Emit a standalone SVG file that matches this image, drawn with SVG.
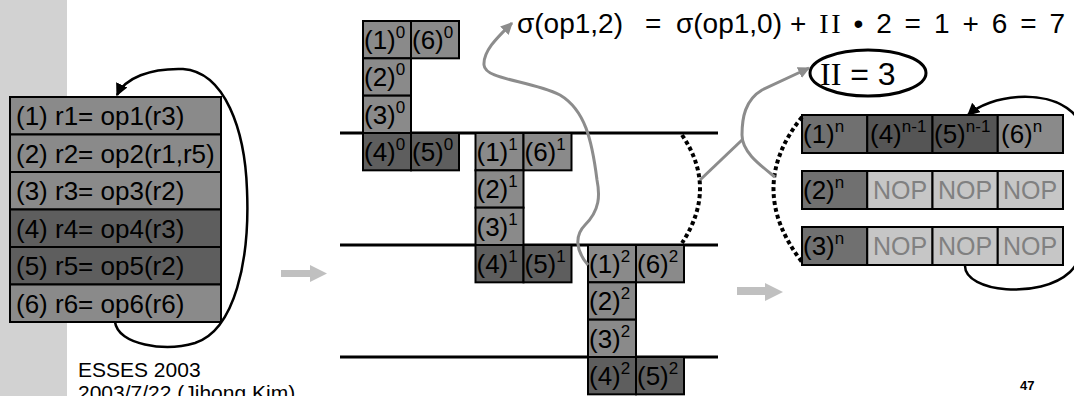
<svg xmlns="http://www.w3.org/2000/svg" width="1074" height="396" viewBox="0 0 1074 396">
<style>
.t{font-family:"Liberation Sans",Arial,sans-serif;font-size:26px;fill:#000}
.f{font-size:28px}
.e{font-size:32px}
.s{font-size:17px}
.sr{font-family:"Liberation Serif","Times New Roman",serif}
.m{fill:#8a8a8a;stroke:#000;stroke-width:2}
.d{fill:#5e5e5e;stroke:#000;stroke-width:2}
.r1{fill:#707070;stroke:#000;stroke-width:2}
.r4{fill:#555;stroke:#000;stroke-width:2}
.l{fill:#c6c6c6;stroke:#000;stroke-width:2}
.nop{font-family:"Liberation Sans",Arial,sans-serif;font-size:25px;fill:#808080;text-anchor:middle}
.hl{stroke:#000;stroke-width:3}
.blk{fill:none;stroke:#000;stroke-width:2.5}
.gry{fill:none;stroke:#8c8c8c;stroke-width:3}
.dot{fill:none;stroke:#000;stroke-width:4;stroke-dasharray:4 3}
.ba{fill:#c0c0c0}
</style>
<defs>
<marker id="ah" viewBox="0 0 10 10" refX="9" refY="5" markerWidth="5" markerHeight="5" orient="auto" markerUnits="strokeWidth"><path d="M0,0L10,5L0,10z" fill="#000"/></marker>
<marker id="ag" viewBox="0 0 10 10" refX="9" refY="5" markerWidth="4" markerHeight="4" orient="auto" markerUnits="strokeWidth"><path d="M0,0L10,5L0,10z" fill="#8c8c8c"/></marker>
</defs>
<rect x="0" y="0" width="1074" height="396" fill="#fff"/>
<rect x="0" y="0" width="67" height="396" fill="#d2d2d2"/>

<g id="lines">
<line class="hl" x1="340" y1="133" x2="718" y2="133"/>
<line class="hl" x1="340" y1="245" x2="718" y2="245"/>
<line class="hl" x1="340" y1="357" x2="718" y2="357"/>
</g>

<g id="loop-table">
<rect class="m" x="10" y="97" width="211" height="37.5"/>
<rect class="m" x="10" y="134.5" width="211" height="37.5"/>
<rect class="m" x="10" y="172" width="211" height="37.5"/>
<rect class="d" x="10" y="209.5" width="211" height="37.5"/>
<rect class="d" x="10" y="247" width="211" height="37.5"/>
<rect class="m" x="10" y="284.5" width="211" height="37.5"/>
<text class="t" x="16" y="125">(1) r1= op1(r3)</text>
<text class="t" x="16" y="162.5">(2) r2= op2(r1,r5)</text>
<text class="t" x="16" y="200">(3) r3= op3(r2)</text>
<text class="t" x="16" y="237.5">(4) r4= op4(r3)</text>
<text class="t" x="16" y="275">(5) r5= op5(r2)</text>
<text class="t" x="16" y="312.5">(6) r6= op6(r6)</text>
</g>

<g id="iter0">
<rect class="m" x="363" y="21" width="48" height="37.33"/>
<rect class="m" x="411" y="21" width="48" height="37.33"/>
<rect class="m" x="363" y="58.33" width="48" height="37.33"/>
<rect class="m" x="363" y="95.67" width="48" height="37.33"/>
<rect class="d" x="363" y="133" width="48" height="37.33"/>
<rect class="d" x="411" y="133" width="48" height="37.33"/>
<text class="t" x="364" y="49">(1)<tspan class="s" dy="-11">0</tspan></text>
<text class="t" x="412" y="49">(6)<tspan class="s" dy="-11">0</tspan></text>
<text class="t" x="364" y="86.3">(2)<tspan class="s" dy="-11">0</tspan></text>
<text class="t" x="364" y="123.7">(3)<tspan class="s" dy="-11">0</tspan></text>
<text class="t" x="364" y="161">(4)<tspan class="s" dy="-11">0</tspan></text>
<text class="t" x="412" y="161">(5)<tspan class="s" dy="-11">0</tspan></text>
</g>

<g id="iter1">
<rect class="m" x="475.5" y="133" width="48" height="37.33"/>
<rect class="m" x="523.5" y="133" width="48" height="37.33"/>
<rect class="m" x="475.5" y="170.33" width="48" height="37.33"/>
<rect class="m" x="475.5" y="207.67" width="48" height="37.33"/>
<rect class="d" x="475.5" y="245" width="48" height="37.33"/>
<rect class="d" x="523.5" y="245" width="48" height="37.33"/>
<text class="t" x="476.5" y="161">(1)<tspan class="s" dy="-11">1</tspan></text>
<text class="t" x="524.5" y="161">(6)<tspan class="s" dy="-11">1</tspan></text>
<text class="t" x="476.5" y="198.3">(2)<tspan class="s" dy="-11">1</tspan></text>
<text class="t" x="476.5" y="235.7">(3)<tspan class="s" dy="-11">1</tspan></text>
<text class="t" x="476.5" y="273">(4)<tspan class="s" dy="-11">1</tspan></text>
<text class="t" x="524.5" y="273">(5)<tspan class="s" dy="-11">1</tspan></text>
</g>

<g id="iter2">
<rect class="m" x="588" y="245" width="48" height="37.33"/>
<rect class="m" x="636" y="245" width="48" height="37.33"/>
<rect class="m" x="588" y="282.33" width="48" height="37.33"/>
<rect class="m" x="588" y="319.67" width="48" height="37.33"/>
<rect class="d" x="588" y="357" width="48" height="37.33"/>
<rect class="d" x="636" y="357" width="48" height="37.33"/>
<text class="t" x="589" y="273">(1)<tspan class="s" dy="-11">2</tspan></text>
<text class="t" x="637" y="273">(6)<tspan class="s" dy="-11">2</tspan></text>
<text class="t" x="589" y="310.3">(2)<tspan class="s" dy="-11">2</tspan></text>
<text class="t" x="589" y="347.7">(3)<tspan class="s" dy="-11">2</tspan></text>
<text class="t" x="589" y="385">(4)<tspan class="s" dy="-11">2</tspan></text>
<text class="t" x="637" y="385">(5)<tspan class="s" dy="-11">2</tspan></text>
</g>

<g id="kernel">
<rect class="r1" x="802" y="115" width="65.25" height="38"/>
<rect class="r4" x="867.25" y="115" width="65.25" height="38"/>
<rect class="r4" x="932.5" y="115" width="65.25" height="38"/>
<rect class="m" x="997.75" y="115" width="65.25" height="38"/>
<rect class="r1" x="802" y="171" width="65.25" height="38"/>
<rect class="l" x="867.25" y="171" width="65.25" height="38"/>
<rect class="l" x="932.5" y="171" width="65.25" height="38"/>
<rect class="l" x="997.75" y="171" width="65.25" height="38"/>
<rect class="r1" x="802" y="227" width="65.25" height="38"/>
<rect class="l" x="867.25" y="227" width="65.25" height="38"/>
<rect class="l" x="932.5" y="227" width="65.25" height="38"/>
<rect class="l" x="997.75" y="227" width="65.25" height="38"/>
<text class="t" x="803" y="143">(1)<tspan class="s" dy="-11">n</tspan></text>
<text class="t" x="870" y="143">(4)<tspan class="s" dy="-11">n-1</tspan></text>
<text class="t" x="934" y="143">(5)<tspan class="s" dy="-11">n-1</tspan></text>
<text class="t" x="1001" y="143">(6)<tspan class="s" dy="-11">n</tspan></text>
<text class="t" x="803" y="199">(2)<tspan class="s" dy="-11">n</tspan></text>
<text class="nop" x="900" y="199">NOP</text>
<text class="nop" x="965" y="199">NOP</text>
<text class="nop" x="1030" y="199">NOP</text>
<text class="t" x="803" y="255">(3)<tspan class="s" dy="-11">n</tspan></text>
<text class="nop" x="900" y="255">NOP</text>
<text class="nop" x="965" y="255">NOP</text>
<text class="nop" x="1030" y="255">NOP</text>
</g>

<g id="formula">
<text class="t f" x="517" y="33">σ(op1,2)</text>
<text class="t f" x="645" y="33">=</text>
<text class="t f" x="676" y="33">σ(op1,0)</text>
<text class="t f" x="790" y="33" textLength="275" lengthAdjust="spacing">+ <tspan class="sr">II</tspan> • 2 = 1 + 6 = 7</text>
</g>

<g id="ii">
<ellipse cx="868" cy="73" rx="58" ry="23" fill="none" stroke="#000" stroke-width="3"/>
<text class="t e" x="820" y="85"><tspan class="sr">II</tspan> = 3</text>
</g>

<g id="connectors">
<path class="blk" d="M115,322 C118,345 165,352 195,343 C235,330 250,260 247,190 C245,130 225,72 183,69 C150,68 125,78 117,95" marker-end="url(#ah)"/>
<path class="blk" d="M965,266 C965,292 1040,300 1070,272 C1098,245 1098,135 1072,112 C1045,88 990,95 968,115" marker-end="url(#ah)"/>
<path class="dot" d="M682,135 Q718,188 682,243"/>
<path class="dot" d="M802,117 Q745,188 802,262"/>
<path class="gry" d="M588,265 C575,250 575,235 585,225 C600,210 600,195 597,180 C592,140 585,110 560,95 C530,80 485,80 484,65 C483,50 500,35 512,23" marker-end="url(#ag)"/>
<path class="gry" d="M700,180 L742,140"/>
<path class="gry" d="M775,177 C760,165 742,152 742,135 C742,118 745,100 762,90 L809,68" marker-end="url(#ag)"/>
<path class="ba" d="M281,270 L310,270 L310,265 L327,273.5 L310,282 L310,277 L281,277 Z"/>
<path class="ba" d="M737,287 L765,287 L765,283 L783,292 L765,301 L765,295 L737,295 Z"/>
</g>

<g id="footer">
<text x="78" y="377" font-family="Liberation Sans, Arial, sans-serif" font-size="21">ESSES 2003</text>
<text x="78" y="400" font-family="Liberation Sans, Arial, sans-serif" font-size="21">2003/7/22 (Jihong Kim)</text>
<text x="1020" y="390" font-family="Liberation Sans, Arial, sans-serif" font-size="13" font-weight="bold">47</text>
</g>
</svg>
